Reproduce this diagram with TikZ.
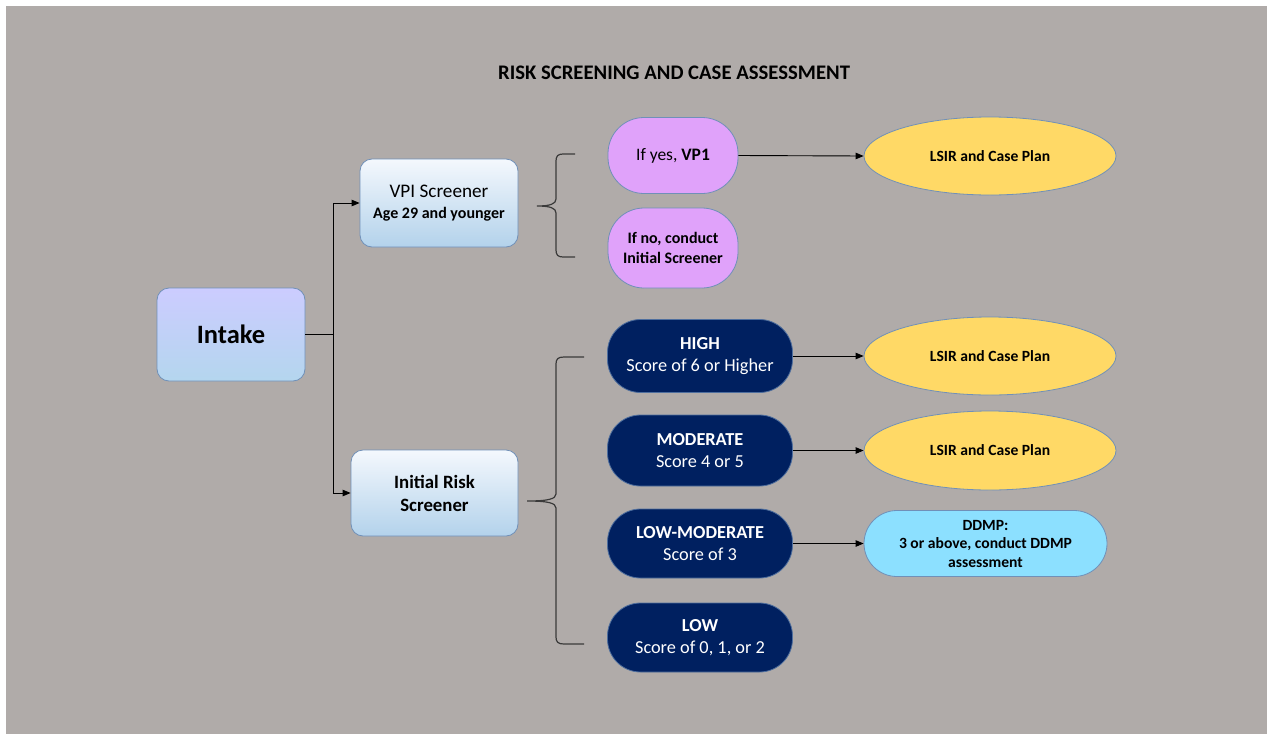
\documentclass[tikz,border=0pt]{standalone}
\usepackage{fontspec}
\setmainfont{Carlito}
\usetikzlibrary{arrows.meta,shapes.geometric}
\definecolor{bg}{HTML}{B0ABA9}
\definecolor{navy}{HTML}{002060}
\definecolor{purp}{HTML}{E0A2FA}
\definecolor{yel}{HTML}{FFD966}
\definecolor{cyanb}{HTML}{8CE0FF}
\definecolor{edge}{HTML}{7090B8}
\definecolor{bracec}{HTML}{3A3A3A}
\definecolor{lavtop}{HTML}{CCCCFF}
\definecolor{lavbot}{HTML}{B4D6EE}
\definecolor{wtop}{HTML}{F4F8FD}
\definecolor{wbot}{HTML}{B3D2EB}
\begin{document}
\begin{tikzpicture}[x=1pt,y=-1pt,
  every node/.style={inner sep=0pt, align=center, font=\fontsize{16}{19}\selectfont},
  gbox/.style={draw=edge, line width=0.8pt, rounded corners=12pt, top color=wtop, bottom color=wbot},
  pillp/.style={draw=edge, line width=0.8pt, fill=purp, rounded corners=36pt, minimum width=130pt},
  pilln/.style={draw=edge!70!navy, line width=0.8pt, fill=navy, text=white, rounded corners=33pt, minimum width=185pt,
     font=\fontsize{18.3}{22}\selectfont},
  lsir/.style={ellipse, draw=edge, line width=0.8pt, fill=yel, minimum width=252pt, minimum height=78pt,
     font=\bfseries\fontsize{15.6}{18}\selectfont},
  conn/.style={draw=black, line width=0.9pt, -{Triangle[length=8pt,width=6.5pt]}},
  plain/.style={draw=black, line width=0.9pt},
  bracel/.style={draw=bracec, line width=1.2pt}
]
\useasboundingbox (0,0) rectangle (1269,734);
\fill[white] (0,0) rectangle (1269,734);
\fill[bg] (6,6) rectangle (1267,734);

\node[font=\bfseries\fontsize{20.7}{24}\selectfont] (title) at (674,73) {RISK SCREENING AND CASE ASSESSMENT};

% left column
\node[gbox, top color=lavtop, bottom color=lavbot,
  minimum width=148pt, minimum height=93pt, font=\bfseries\fontsize{26.5}{30}\selectfont] (intake) at (231,334.5) {Intake};
\node[gbox, minimum width=158pt, minimum height=88pt] (vpi) at (439,203)
  {\fontsize{19.2}{22}\selectfont VPI Screener\\[2pt] \bfseries\fontsize{16}{18}\selectfont Age 29 and younger};
\node[gbox, minimum width=167pt, minimum height=86pt, font=\bfseries\fontsize{18.8}{23}\selectfont] (irs) at (434.5,493)
  {Initial Risk\\Screener};

% purple pills
\node[pillp, minimum height=76pt, font=\fontsize{17.5}{21}\selectfont] (yes) at (673,155.5) {If yes, \textbf{VP1}};
\node[pillp, minimum height=80pt, font=\bfseries\fontsize{16}{19.5}\selectfont] (no) at (673,248) {If no, conduct\\Initial Screener};

% navy pills
\node[pilln, minimum height=73pt] (high) at (700,356) {\textbf{HIGH}\\Score of 6 or Higher};
\node[pilln, minimum height=71pt] (mod) at (700,450.5) {\textbf{MODERATE}\\Score 4 or 5};
\node[pilln, minimum height=69pt] (lowmod) at (700,543.5) {\textbf{LOW-MODERATE}\\Score of 3};
\node[pilln, minimum height=69pt] (low) at (700,637.5) {\textbf{LOW}\\Score of 0, 1, or 2};

% outcomes
\node[lsir] (lsir1) at (990,156) {LSIR and Case Plan};
\node[lsir] (lsir2) at (990,356) {LSIR and Case Plan};
\node[lsir, minimum height=79pt] (lsir3) at (990,450.5) {LSIR and Case Plan};
\node[draw=edge, line width=0.8pt, fill=cyanb, rounded corners=33pt, minimum width=243pt, minimum height=66pt,
  font=\bfseries\fontsize{15.6}{18.5}\selectfont] (ddmp) at (985.5,543.5) {DDMP:\\3 or above, conduct DDMP\\assessment};

% connectors
\coordinate (jn) at (333,334.5);
\draw[plain] (intake.east) -- (jn);
\draw[conn] (jn) |- (vpi.west);
\draw[conn] (jn) |- (irs.west);
\draw[conn] (yes.east) -- (lsir1.west);
\draw[conn] (high.east) -- (lsir2.west);
\draw[conn] (mod.east) -- (lsir3.west);
\draw[conn] (lowmod.east) -- (ddmp.west);

% braces
\draw[bracel] (575,154) -- (563,154) .. controls (558,154) and (556,156) .. (556,161) -- (556,199)
  .. controls (556,204) and (550,206) .. (537,206)
  .. controls (550,206) and (556,208) .. (556,213) -- (556,250)
  .. controls (556,255) and (558,257) .. (563,257) -- (575,257);
\draw[bracel] (584,357) -- (564,357) .. controls (558,357) and (556,359) .. (556,364) -- (556,494)
  .. controls (556,499) and (548,501) .. (527,501)
  .. controls (548,501) and (556,503) .. (556,508) -- (556,637)
  .. controls (556,642) and (558,644) .. (564,644) -- (584,644);
\end{tikzpicture}
\end{document}
